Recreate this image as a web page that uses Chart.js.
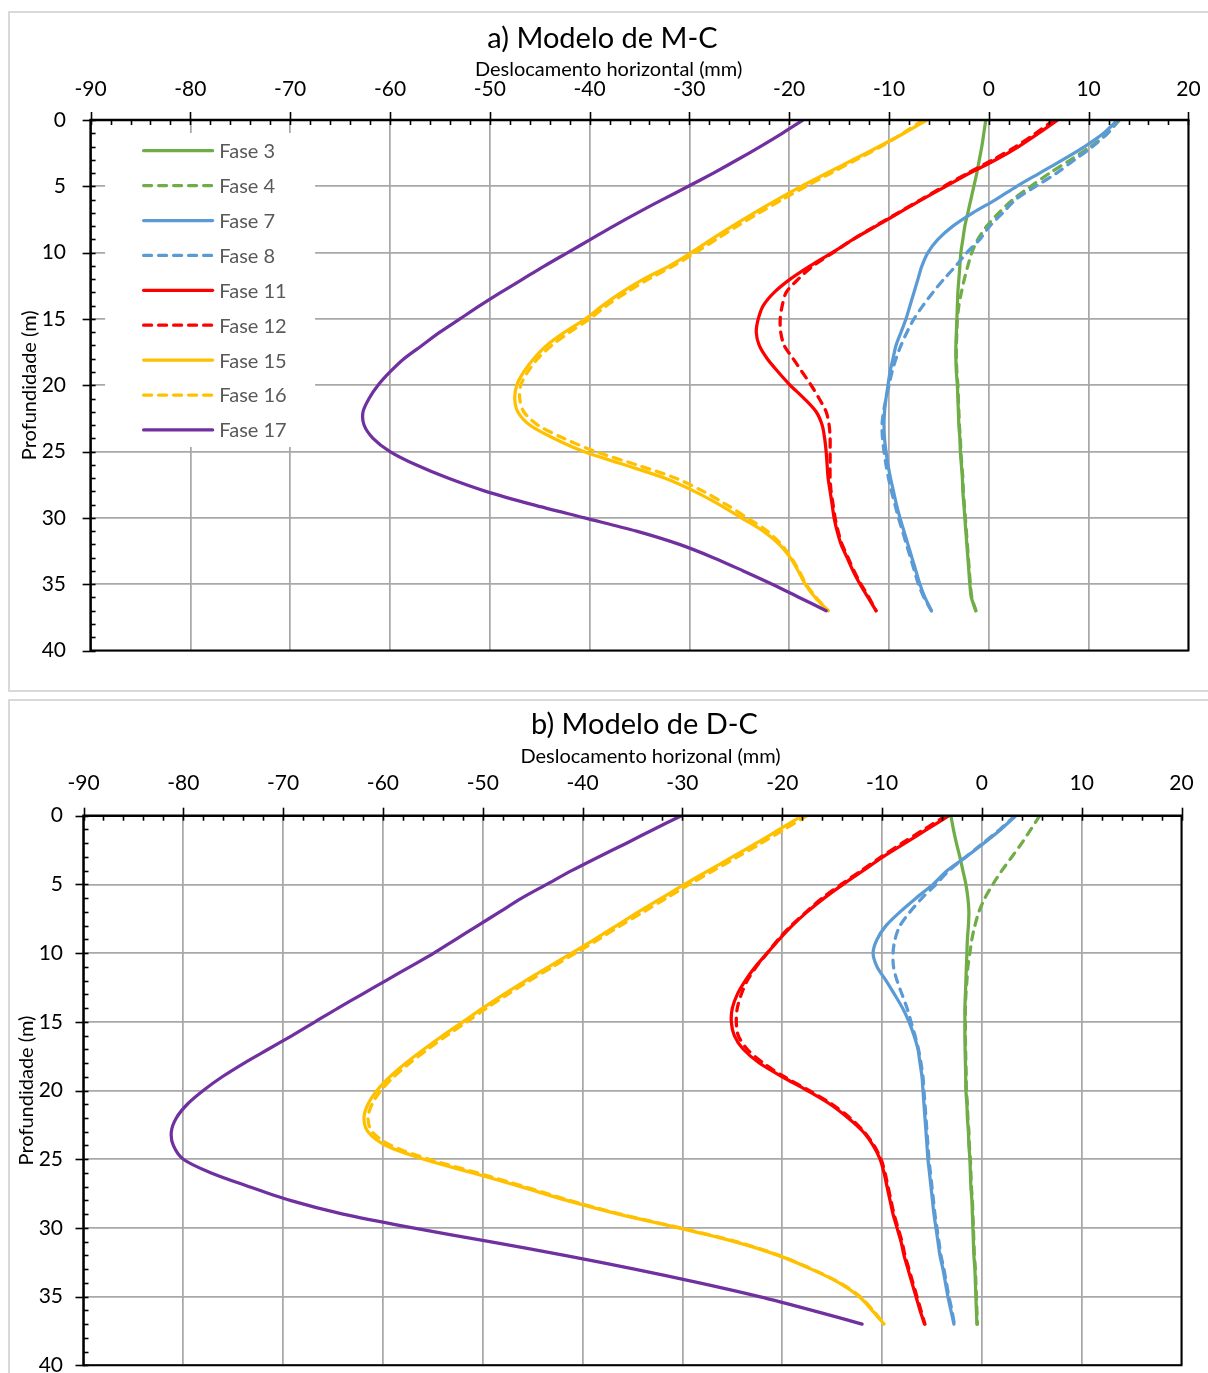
<!DOCTYPE html>
<html>
<head>
<meta charset="utf-8">
<title>Deslocamento horizontal – Modelos M-C e D-C</title>
<script src="https://cdn.jsdelivr.net/npm/chart.js@4.4.1/dist/chart.umd.min.js"></script>
<style>
  html, body { margin: 0; padding: 0; background: #fff; }
  body { width: 1208px; height: 1373px; position: relative; overflow: hidden; }
  .panel { position: absolute; border: 2px solid #d9d9d9; box-sizing: border-box; }
  #panelA { left: 8px; top: 11px; width: 1212px; height: 681px; }
  #panelB { left: 8px; top: 699px; width: 1212px; height: 700px; }
  canvas { position: absolute; }
  #chartA { left: 9px; top: 12px; }
  #chartB { left: 9px; top: 700px; }
</style>
</head>
<body>
<div class="panel" id="panelA"></div>
<div class="panel" id="panelB"></div>
<canvas id="chartA" width="1199" height="678"></canvas>
<canvas id="chartB" width="1199" height="673"></canvas>
<script>
// Profundidade (m) of each reading
const depth = [0,1,2,3,4,5,6,7,8,9,10,11,12,13,14,15,16,17,18,19,20,21,22,23,24,25,26,27,28,29,30,31,32,33,34,35,36,37];

const phases = ['Fase 3','Fase 4','Fase 7','Fase 8','Fase 11','Fase 12','Fase 15','Fase 16','Fase 17'];

// Deslocamento horizontal (mm) – modelo M-C
const mcF3  = [-0.3,-0.5,-0.7,-0.95,-1.2,-1.5,-1.8,-2.1,-2.4,-2.6,-2.8,-2.9,-3.0,-3.1,-3.15,-3.2,-3.25,-3.3,-3.3,-3.25,-3.15,-3.1,-3.05,-3.0,-2.9,-2.85,-2.75,-2.65,-2.6,-2.5,-2.4,-2.3,-2.2,-2.1,-2.0,-1.9,-1.75,-1.3];
const mcF4  = [13.1,11.9,10.2,8.2,6.1,4.2,2.4,1.0,-0.2,-1.1,-1.7,-2.1,-2.45,-2.75,-3.0,-3.15,-3.2,-3.25,-3.25,-3.2,-3.1,-3.05,-3.0,-2.95,-2.85,-2.8,-2.7,-2.6,-2.55,-2.45,-2.35,-2.25,-2.15,-2.05,-1.95,-1.85,-1.7,-1.3];
const mcF7  = [12.9,11.5,9.6,7.4,5.1,2.8,0.7,-1.6,-3.6,-5.1,-6.1,-6.7,-7.1,-7.5,-7.9,-8.3,-8.8,-9.3,-9.6,-9.9,-10.1,-10.3,-10.45,-10.5,-10.45,-10.3,-10.1,-9.85,-9.55,-9.25,-8.9,-8.5,-8.1,-7.7,-7.3,-6.9,-6.4,-5.75];
const mcF8  = [13.0,11.9,10.4,8.6,6.8,4.7,2.7,1.4,0.1,-0.9,-2.2,-3.3,-4.5,-5.6,-6.6,-7.5,-8.2,-8.8,-9.3,-9.7,-10.0,-10.3,-10.55,-10.7,-10.65,-10.5,-10.3,-10.05,-9.75,-9.4,-9.05,-8.65,-8.25,-7.85,-7.45,-7.05,-6.5,-5.75];
const mcF11 = [6.9,5.0,3.0,0.7,-1.9,-4.3,-6.7,-9.0,-11.3,-13.6,-15.7,-17.9,-19.9,-21.5,-22.6,-23.1,-23.3,-23.0,-22.2,-21.1,-19.9,-18.5,-17.3,-16.7,-16.45,-16.3,-16.2,-16.1,-15.9,-15.7,-15.5,-15.2,-14.8,-14.2,-13.6,-12.9,-12.1,-11.3];
const mcF12 = [6.5,4.7,2.7,0.4,-2.1,-4.5,-6.8,-9.1,-11.4,-13.6,-15.6,-17.6,-19.1,-20.3,-20.7,-20.9,-20.85,-20.5,-19.6,-18.7,-17.8,-17.0,-16.3,-16.0,-15.9,-15.9,-15.9,-15.9,-15.8,-15.6,-15.4,-15.1,-14.7,-14.1,-13.5,-12.8,-12.0,-11.3];
const mcF15 = [-6.2,-8.5,-11.0,-13.6,-16.2,-18.8,-21.2,-23.5,-25.7,-27.8,-29.8,-32.0,-34.6,-36.8,-38.7,-40.4,-42.5,-44.3,-45.6,-46.6,-47.3,-47.5,-47.2,-46.0,-43.6,-40.6,-36.5,-32.5,-29.5,-27.0,-24.8,-22.6,-21.0,-19.9,-19.1,-18.4,-17.4,-16.1];
const mcF16 = [-6.6,-8.6,-10.8,-13.3,-15.8,-18.3,-20.7,-23.0,-25.2,-27.3,-29.4,-31.6,-34.1,-36.3,-38.3,-40.0,-42.0,-43.8,-45.2,-46.2,-46.9,-47.0,-46.6,-45.2,-42.6,-39.4,-35.3,-31.4,-28.6,-26.3,-24.2,-22.2,-20.8,-19.8,-19.0,-18.3,-17.3,-16.1];
const mcF17 = [-18.6,-20.7,-22.9,-25.2,-27.6,-30.1,-32.7,-35.2,-37.6,-39.9,-42.2,-44.5,-46.7,-48.9,-51.0,-53.0,-55.0,-56.8,-58.6,-60.0,-61.2,-62.1,-62.7,-62.6,-61.7,-60.0,-57.4,-54.2,-50.4,-45.7,-40.5,-35.3,-31.0,-27.6,-24.6,-21.7,-19.0,-16.3];

// Deslocamento horizontal (mm) – modelo D-C
const dcF3  = [-3.1,-2.85,-2.55,-2.2,-1.9,-1.6,-1.4,-1.3,-1.35,-1.45,-1.5,-1.55,-1.6,-1.65,-1.7,-1.7,-1.7,-1.68,-1.65,-1.62,-1.6,-1.5,-1.45,-1.35,-1.3,-1.2,-1.15,-1.1,-1.0,-0.95,-0.9,-0.85,-0.8,-0.7,-0.65,-0.6,-0.55,-0.5];
const dcF4  = [5.8,4.9,4.0,3.0,2.0,1.1,0.3,-0.3,-0.7,-1.0,-1.2,-1.4,-1.5,-1.6,-1.65,-1.65,-1.65,-1.63,-1.6,-1.57,-1.55,-1.45,-1.4,-1.3,-1.25,-1.15,-1.1,-1.05,-0.95,-0.9,-0.85,-0.8,-0.75,-0.65,-0.6,-0.55,-0.5,-0.45];
const dcF7  = [3.4,1.9,0.2,-1.6,-3.5,-4.9,-6.6,-8.2,-9.6,-10.5,-10.9,-10.5,-9.6,-8.75,-7.95,-7.3,-6.8,-6.4,-6.2,-6.0,-5.9,-5.8,-5.7,-5.6,-5.5,-5.4,-5.25,-5.1,-4.95,-4.8,-4.6,-4.4,-4.2,-3.9,-3.65,-3.4,-3.1,-2.8];
const dcF8  = [3.3,1.8,0.1,-1.6,-3.3,-4.6,-6.0,-7.2,-8.2,-8.7,-8.9,-8.85,-8.5,-8.0,-7.5,-7.1,-6.7,-6.35,-6.1,-5.9,-5.8,-5.7,-5.6,-5.5,-5.4,-5.3,-5.15,-5.0,-4.85,-4.7,-4.5,-4.3,-4.1,-3.8,-3.55,-3.3,-3.0,-2.75];
const dcF11 = [-3.3,-5.5,-7.7,-9.9,-11.9,-13.9,-15.8,-17.5,-19.0,-20.3,-21.5,-22.7,-23.7,-24.5,-25.0,-25.1,-24.8,-23.9,-22.3,-20.0,-17.5,-15.2,-13.4,-11.9,-10.9,-10.2,-9.8,-9.5,-9.2,-8.9,-8.5,-8.1,-7.8,-7.4,-7.0,-6.6,-6.2,-5.75];
const dcF12 = [-3.6,-5.8,-8.0,-10.1,-12.1,-14.1,-16.0,-17.6,-19.1,-20.4,-21.5,-22.6,-23.5,-24.1,-24.5,-24.6,-24.4,-23.5,-21.9,-19.8,-17.3,-15.0,-13.2,-11.8,-10.8,-10.1,-9.7,-9.4,-9.1,-8.8,-8.4,-8.0,-7.7,-7.3,-6.9,-6.5,-6.1,-5.7];
const dcF15 = [-18.0,-20.3,-22.6,-25.0,-27.4,-29.8,-32.1,-34.4,-36.6,-38.8,-41.1,-43.4,-45.7,-47.9,-50.0,-52.0,-54.0,-55.9,-57.7,-59.3,-60.6,-61.5,-61.9,-61.5,-59.7,-55.9,-51.0,-46.2,-41.6,-36.4,-30.4,-24.8,-20.4,-17.1,-14.3,-12.3,-11.0,-9.8];
const dcF16 = [-17.5,-19.8,-22.1,-24.5,-26.9,-29.3,-31.6,-33.9,-36.2,-38.4,-40.7,-43.0,-45.3,-47.5,-49.6,-51.6,-53.6,-55.5,-57.3,-58.9,-60.2,-61.1,-61.5,-61.1,-59.2,-55.4,-50.5,-45.8,-41.3,-36.2,-30.2,-24.6,-20.3,-17.0,-14.2,-12.2,-10.9,-9.8];
const dcF17 = [-30.1,-32.9,-35.6,-38.4,-41.1,-43.6,-46.1,-48.3,-50.5,-52.7,-54.9,-57.3,-59.7,-62.1,-64.5,-66.8,-69.1,-71.5,-73.9,-76.1,-78.0,-79.6,-80.7,-81.2,-81.0,-80.0,-77.2,-73.4,-69.3,-64.0,-57.0,-49.3,-41.8,-34.8,-28.3,-22.3,-17.0,-12.0];

// Axis ticks
const xTickMin = -90, xTickMax = 20, xTickStep = 10, xMinorStep = 2;
const yTickMin = 0, yTickMax = 40, yTickStep = 5, yMinorStep = 1;

// Line styles per phase
const phaseColors = ['#70ad47','#70ad47','#5b9bd5','#5b9bd5','#ff0000','#ff0000','#ffc000','#ffc000','#7030a0'];
const phaseDashed = [false,true,false,true,false,true,false,true,false];

const FONT = "Lato, 'Open Sans', 'DejaVu Sans', sans-serif";

function buildDatasets(series) {
  return series.map((vals, i) => ({
    label: phases[i],
    data: vals.map((v, k) => ({ x: v, y: depth[k] })),
    showLine: true,
    borderColor: phaseColors[i],
    backgroundColor: phaseColors[i],
    borderWidth: 3.25,
    borderDash: phaseDashed[i] ? [8, 7] : [],
    borderCapStyle: 'round',
    borderJoinStyle: 'round',
    pointRadius: 0,
    pointHoverRadius: 0,
    tension: 0.3,
    fill: false,
    order: -i
  }));
}

// Black frame around the plot with Excel-style major/minor tick marks
const axisFrame = {
  id: 'axisFrame',
  afterDraw(chart) {
    const { ctx, chartArea: a, scales: { x, y } } = chart;
    ctx.save();
    ctx.strokeStyle = '#000';
    ctx.lineCap = 'butt';
    ctx.lineWidth = 1.6;
    const nx = Math.round((xTickMax - xTickMin) / xMinorStep);
    for (let k = 0; k <= nx; k++) {
      const v = xTickMin + k * xMinorStep;
      const px = Math.round(x.getPixelForValue(v)) + 0.5;
      const major = (v - xTickMin) % xTickStep === 0;
      ctx.beginPath();
      ctx.moveTo(px, a.top - (major ? 8 : 0));
      ctx.lineTo(px, a.top + 5);
      ctx.stroke();
    }
    const ny = Math.round((yTickMax - yTickMin) / yMinorStep);
    for (let k = 0; k <= ny; k++) {
      const v = yTickMin + k * yMinorStep;
      const py = Math.round(y.getPixelForValue(v)) + 0.5;
      const major = (v - yTickMin) % yTickStep === 0;
      ctx.beginPath();
      ctx.moveTo(a.left - (major ? 8 : 0), py);
      ctx.lineTo(a.left + 5, py);
      ctx.stroke();
    }
    ctx.lineWidth = 2.5;
    ctx.beginPath();
    ctx.moveTo(a.left, a.bottom + 1);
    ctx.lineTo(a.left, a.top);
    ctx.lineTo(a.right + 1, a.top);
    ctx.stroke();
    ctx.lineWidth = 2;
    ctx.beginPath();
    ctx.moveTo(a.right, a.top);
    ctx.lineTo(a.right, a.bottom);
    ctx.lineTo(a.left, a.bottom);
    ctx.stroke();
    ctx.restore();
  }
};

// Chart title and horizontal-axis title, placed relative to the plot area
const headerTexts = {
  id: 'headerTexts',
  afterDraw(chart, args, opts) {
    const { ctx, chartArea: a } = chart;
    ctx.save();
    ctx.fillStyle = '#000';
    ctx.textAlign = 'center';
    ctx.textBaseline = 'middle';
    ctx.font = '29px ' + FONT;
    ctx.fillText(opts.title, a.left + opts.titleDx, a.top - opts.titleDy);
    ctx.font = '20px ' + FONT;
    ctx.fillText(opts.xTitle, a.left + opts.xTitleDx, a.top - opts.xTitleDy);
    ctx.restore();
  }
};

// Legend box inside the plot area (upper left)
const insetLegend = {
  id: 'insetLegend',
  afterDraw(chart, args, opts) {
    if (!opts.show) return;
    const { ctx, chartArea: a } = chart;
    const boxL = a.left + 14.5, boxT = a.top + 13, boxW = 210, boxH = 314;
    ctx.save();
    ctx.fillStyle = '#fff';
    ctx.fillRect(boxL, boxT, boxW, boxH);
    ctx.font = '20px ' + FONT;
    ctx.textBaseline = 'middle';
    ctx.textAlign = 'left';
    chart.data.datasets.forEach((ds, i) => {
      const cy = a.top + 30.7 + i * 34.9;
      ctx.strokeStyle = ds.borderColor;
      ctx.lineWidth = 3.25;
      ctx.lineCap = 'round';
      ctx.setLineDash(ds.borderDash || []);
      ctx.beginPath();
      ctx.moveTo(a.left + 53, cy);
      ctx.lineTo(a.left + 122, cy);
      ctx.stroke();
      ctx.setLineDash([]);
      ctx.fillStyle = '#595959';
      ctx.fillText(ds.label, a.left + 128.7, cy + 1);
    });
    ctx.restore();
  }
};

function makeChart(canvasId, cfg) {
  return new Chart(document.getElementById(canvasId), {
    type: 'scatter',
    data: { datasets: buildDatasets(cfg.series) },
    plugins: [axisFrame, headerTexts, insetLegend],
    options: {
      responsive: false,
      animation: false,
      events: [],
      layout: { padding: cfg.padding },
      plugins: {
        legend: { display: false },
        tooltip: { enabled: false },
        title: { display: false },
        insetLegend: { show: cfg.legend },
        headerTexts: cfg.header
      },
      scales: {
        x: {
          type: 'linear',
          position: 'top',
          min: xTickMin,
          max: xTickMax,
          ticks: {
            stepSize: xTickStep,
            autoSkip: false,
            maxRotation: 0,
            color: '#000',
            padding: cfg.xTickPad,
            font: { family: FONT, size: 21 }
          },
          grid: { color: '#a8a8a8', lineWidth: 1.75, drawTicks: false },
          border: { display: false },
          title: { display: false },
          afterFit(scale) {
            scale.height = cfg.xScaleHeight;
            scale.paddingLeft = 0;
            scale.paddingRight = 0;
          }
        },
        y: {
          type: 'linear',
          reverse: true,
          min: yTickMin,
          max: yTickMax,
          ticks: {
            stepSize: yTickStep,
            autoSkip: false,
            color: '#000',
            padding: cfg.yTickPad,
            font: { family: FONT, size: 21 }
          },
          grid: { color: '#a8a8a8', lineWidth: 1.75, drawTicks: false },
          border: { display: false },
          title: {
            display: true,
            text: 'Profundidade (m)',
            color: '#000',
            font: { family: FONT, size: 20 },
            padding: { top: cfg.yTitlePadTop, bottom: 0 }
          },
          afterFit(scale) {
            scale.width = cfg.yScaleWidth;
            scale.paddingTop = 0;
            scale.paddingBottom = 0;
          }
        }
      }
    }
  });
}

function drawAll() {
  makeChart('chartA', {
    series: [mcF3, mcF4, mcF7, mcF8, mcF11, mcF12, mcF15, mcF16, mcF17],
    legend: true,
    header: {
      title: 'a) Modelo de M-C', titleDx: 511.9, titleDy: 81.5,
      xTitle: 'Deslocamento horizontal (mm)', xTitleDx: 518, xTitleDy: 50.5
    },
    padding: { left: 0, right: 19.6, top: 0, bottom: 39.5 },
    xScaleHeight: 108,
    xTickPad: 18,
    yScaleWidth: 81.6,
    yTitlePadTop: 9,
    yTickPad: 24.6
  });
  makeChart('chartB', {
    series: [dcF3, dcF4, dcF7, dcF8, dcF11, dcF12, dcF15, dcF16, dcF17],
    legend: false,
    header: {
      title: 'b) Modelo de D-C', titleDx: 561, titleDy: 90.7,
      xTitle: 'Deslocamento horizonal (mm)', xTitleDx: 567, xTitleDy: 58.7
    },
    padding: { left: 0, right: 26.5, top: 0, bottom: 7.7 },
    xScaleHeight: 115.7,
    xTickPad: 20.1,
    yScaleWidth: 74.5,
    yTitlePadTop: 6,
    yTickPad: 20.5
  });
}

if (document.fonts && document.fonts.load) {
  Promise.all([document.fonts.load('20px Lato'), document.fonts.load('29px Lato')])
    .then(drawAll, drawAll);
} else {
  drawAll();
}
</script>
</body>
</html>
